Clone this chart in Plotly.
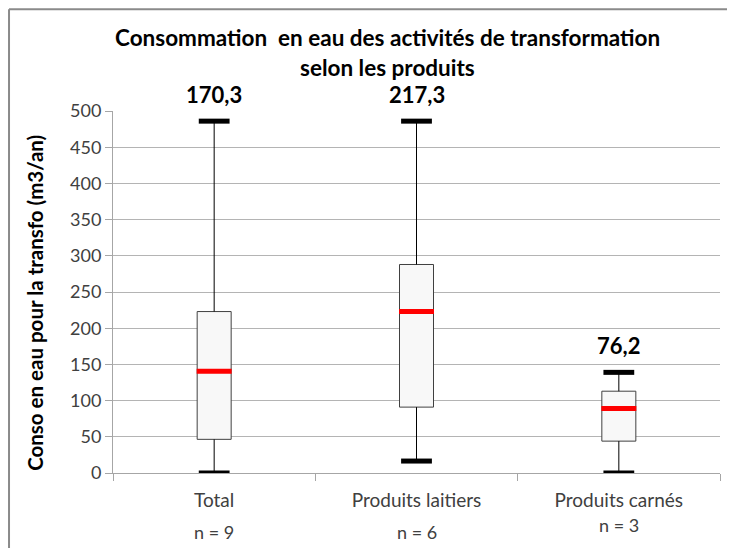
import plotly.graph_objects as go

categories = ["Total", "Produits laitiers", "Produits carnés"]
mins = [0, 16.5, 0]
q1 = [46.5, 91, 44]
medians = [140.5, 223, 89]
q3 = [223, 288, 113]
maxs = [486, 486, 139]
means = [170.3, 217.3, 76.2]
counts = [9, 6, 3]
y_ticks = [0, 50, 100, 150, 200, 250, 300, 350, 400, 450, 500]

FONT = "Lato"
TXT = "#404040"

fig = go.Figure()

# Box bodies
fig.add_trace(go.Bar(
    x=categories, y=[b - a for a, b in zip(q1, q3)], base=q1, width=0.168,
    marker=dict(color="#f8f8f8", line=dict(color="#404040", width=1)),
    hoverinfo="skip", showlegend=False))

# Whiskers
wx, wy = [], []
for c, lo, a, b, hi in zip(categories, mins, q1, q3, maxs):
    wx += [c, c, None, c, c, None]
    wy += [lo, a, None, b, hi, None]
fig.add_trace(go.Scatter(x=wx, y=wy, mode="lines", line=dict(color="black", width=1),
                         hoverinfo="skip", showlegend=False))

# Caps
fig.add_trace(go.Scatter(
    x=categories + categories, y=mins + maxs, mode="markers",
    marker=dict(symbol="line-ew", size=22, line=dict(color="black", width=5)),
    hoverinfo="skip", showlegend=False))

# Medians
fig.add_trace(go.Scatter(
    x=categories, y=medians, mode="markers",
    marker=dict(symbol="line-ew", size=25, line=dict(color="#ff0000", width=5)),
    hoverinfo="skip", showlegend=False))

annotations = []
# Mean labels above max
for c, hi, m in zip(categories, maxs, means):
    annotations.append(dict(x=c, y=hi, xref="x", yref="y", yshift=27,
                            text="<b>" + f"{m:.1f}".replace(".", ",") + "</b>",
                            showarrow=False, xanchor="center", yanchor="middle",
                            font=dict(family=FONT, size=22, color="black")))
# n labels
n_y = [-0.164, -0.164, -0.145]
for c, n, ny in zip(categories, counts, n_y):
    annotations.append(dict(x=c, y=ny, xref="x", yref="paper",
                            text=f"n = {n}", showarrow=False,
                            xanchor="center", yanchor="middle",
                            font=dict(family=FONT, size=18, color=TXT)))
# Title (two lines)
annotations.append(dict(x=0.453, y=1.2036, xref="paper", yref="paper",
                        text="<b>Consommation  en eau des activités de transformation</b>",
                        showarrow=False, xanchor="center", yanchor="middle",
                        font=dict(family=FONT, size=22.5, color="black")))
annotations.append(dict(x=0.453, y=1.1207, xref="paper", yref="paper",
                        text="<b>selon les produits</b>",
                        showarrow=False, xanchor="center", yanchor="middle",
                        font=dict(family=FONT, size=22.5, color="black")))
# Y axis title
annotations.append(dict(x=-0.1285, y=0.47, xref="paper", yref="paper",
                        text="<b>Conso en eau pour la transfo (m3/an)</b>",
                        textangle=-90, showarrow=False,
                        xanchor="center", yanchor="middle",
                        font=dict(family=FONT, size=20.5, color="black")))

# Chart outer border (left and top edges visible)
shapes = [
    dict(type="line", xref="paper", yref="paper", x0=-0.1713, x1=-0.1713, y0=1.281, y1=-0.3,
         line=dict(color="#8a8a8a", width=2)),
    dict(type="line", xref="paper", yref="paper", x0=-0.1713, x1=1.1, y0=1.281, y1=1.281,
         line=dict(color="#8a8a8a", width=2)),
]

fig.update_layout(
    width=735, height=548,
    margin=dict(l=105, r=23, t=103, b=83),
    paper_bgcolor="white", plot_bgcolor="white",
    barmode="overlay", showlegend=False,
    annotations=annotations, shapes=shapes,
    font=dict(family=FONT, color=TXT),
    xaxis=dict(type="category", range=[-0.5, 2.5], showgrid=False,
               showline=True, linecolor="#a6a6a6", linewidth=1,
               ticks="outside", tickson="boundaries", ticklen=7, tickcolor="#a6a6a6",
               tickfont=dict(family=FONT, size=19, color=TXT), ticklabelstandoff=10,
               zeroline=False),
    yaxis=dict(range=[0, 500], tickvals=y_ticks, showgrid=True, gridcolor="#b4b4b4",
               gridwidth=1, showline=True, linecolor="#a6a6a6", linewidth=1,
               ticks="outside", ticklen=7, tickcolor="#a6a6a6",
               tickfont=dict(family=FONT, size=18, color=TXT), zeroline=False),
)

fig.write_html("out.html")
